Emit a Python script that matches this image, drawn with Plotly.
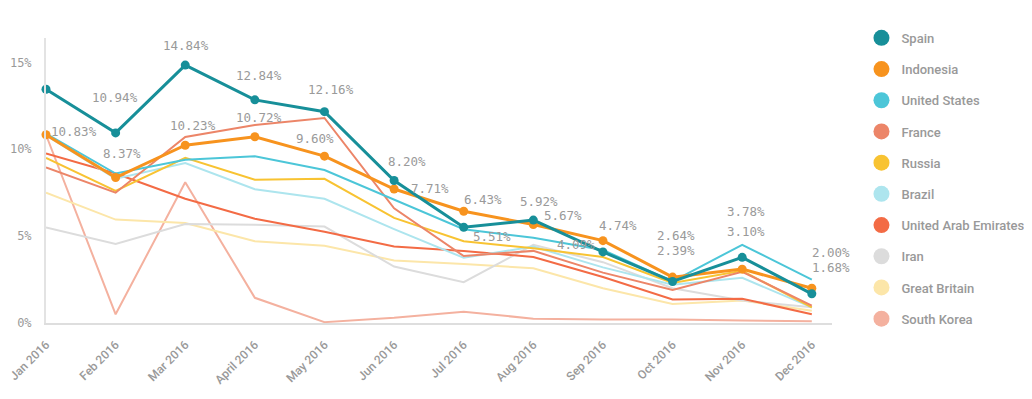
import plotly.graph_objects as go

months = ["Jan 2016", "Feb 2016", "Mar 2016", "April 2016", "May 2016", "Jun 2016",
          "Jul 2016", "Aug 2016", "Sep 2016", "Oct 2016", "Nov 2016", "Dec 2016"]

spain = [13.45, 10.94, 14.84, 12.84, 12.16, 8.20, 5.51, 5.92, 4.09, 2.39, 3.78, 1.68]
indonesia = [10.83, 8.37, 10.23, 10.72, 9.60, 7.71, 6.43, 5.67, 4.74, 2.64, 3.10, 2.00]
united_states = [10.9, 8.6, 9.4, 9.6, 8.8, 7.1, 5.4, 4.9, 4.2, 2.4, 4.5, 2.5]
france = [8.95, 7.5, 10.7, 11.4, 11.8, 6.6, 3.85, 4.15, 2.9, 1.9, 2.95, 1.0]
russia = [9.5, 7.6, 9.5, 8.25, 8.3, 6.05, 4.7, 4.3, 3.8, 2.3, 3.0, 0.9]
brazil = [10.8, 8.3, 9.2, 7.7, 7.15, 5.4, 3.75, 4.4, 3.2, 2.2, 2.6, 0.9]
uae = [9.75, 8.6, 7.15, 6.0, 5.25, 4.4, 4.15, 3.8, 2.65, 1.35, 1.4, 0.5]
iran = [5.5, 4.55, 5.7, 5.65, 5.55, 3.25, 2.35, 4.5, 3.5, 2.0, 1.3, 0.9]
great_britain = [7.5, 5.95, 5.75, 4.7, 4.45, 3.6, 3.4, 3.15, 2.0, 1.1, 1.3, 0.7]
south_korea = [10.83, 0.5, 8.1, 1.45, 0.05, 0.3, 0.65, 0.25, 0.2, 0.2, 0.15, 0.1]

y_tick_vals = [0, 5, 10, 15]
y_tick_text = ["0%", "5%", "10%", "15%"]

names = ["Spain", "Indonesia", "United States", "France", "Russia", "Brazil",
         "United Arab Emirates", "Iran", "Great Britain", "South Korea"]
series = [spain, indonesia, united_states, france, russia, brazil, uae, iran,
          great_britain, south_korea]
colors = ["#178f99", "#f7931e", "#4cc6d8", "#ec8568", "#f8c332", "#ade5ee",
          "#f36b45", "#dcdcdc", "#fce6a9", "#f4b19f"]

# label offsets (pixels) for highlighted series
spain_dx = [None, -1, 1, 4, 7, 13, 28, 6, -27, 3, 4, 19]
spain_dy = [None, 35, 20, 24, 22, 19, -9, 19, 7, 31, 46, 26]
indo_dx = [28, 6, 8, 4, -9, 36, 19, 30, 15, 3, 4, 19]
indo_dy = [3, 24, 20, 19, 18, 1, 12, 9, 15, 42, 38, 36]

fig = go.Figure()

# draw lines: background series first, highlighted on top
for i in reversed(range(len(names))):
    highlighted = i < 2
    fig.add_trace(go.Scatter(
        x=months, y=series[i], name=names[i],
        mode="lines+markers" if highlighted else "lines",
        line=dict(color=colors[i], width=3 if highlighted else 2),
        marker=dict(size=9, color=colors[i]),
        cliponaxis=False,
        showlegend=False, hoverinfo="skip",
    ))

# legend entries (circle symbols)
for i, n in enumerate(names):
    fig.add_trace(go.Scatter(
        x=[None], y=[None], name=n, mode="markers",
        marker=dict(size=16, color=colors[i]),
        legendgroup=n, showlegend=True,
    ))

label_font = dict(family="DejaVu Sans Mono", size=12.5, color="#9a9a9a")
annotations = []
for vals, dxs, dys in [(spain, spain_dx, spain_dy), (indonesia, indo_dx, indo_dy)]:
    for m, v, dx, dy in zip(months, vals, dxs, dys):
        if dx is None:
            continue
        annotations.append(dict(
            x=m, y=v, xref="x", yref="y", text=f"{v:.2f}%", showarrow=False,
            xshift=dx, yshift=dy, font=label_font,
        ))

fig.update_layout(
    width=1032, height=399,
    margin=dict(l=38, r=208, t=30, b=84, autoexpand=False),
    paper_bgcolor="white", plot_bgcolor="white",
    annotations=annotations,
    legend=dict(
        x=1.0375, xanchor="left", y=1.053, yanchor="top",
        font=dict(family="Roboto", size=13, color="#999999", weight=500),
        traceorder="grouped", tracegroupgap=11.3, itemsizing="trace",
        maxheight=399,
    ),
    xaxis=dict(
        type="category", range=[0, 11.29], automargin=False,
        showgrid=False, zeroline=False,
        showline=True, linecolor="#dedede", linewidth=2,
        tickangle=-45, ticks="", ticklabelstandoff=8,
        tickfont=dict(family="Roboto", size=12, color="#999999", weight=500),
    ),
    yaxis=dict(
        range=[0, 16.4], tickvals=y_tick_vals, ticktext=y_tick_text,
        automargin=False,
        showgrid=False, zeroline=False,
        showline=True, linecolor="#e3e3e3", linewidth=2,
        ticks="", ticklabelstandoff=10,
        tickfont=dict(family="DejaVu Sans Mono", size=12, color="#9a9a9a"),
    ),
)

fig.write_html("out.html")
